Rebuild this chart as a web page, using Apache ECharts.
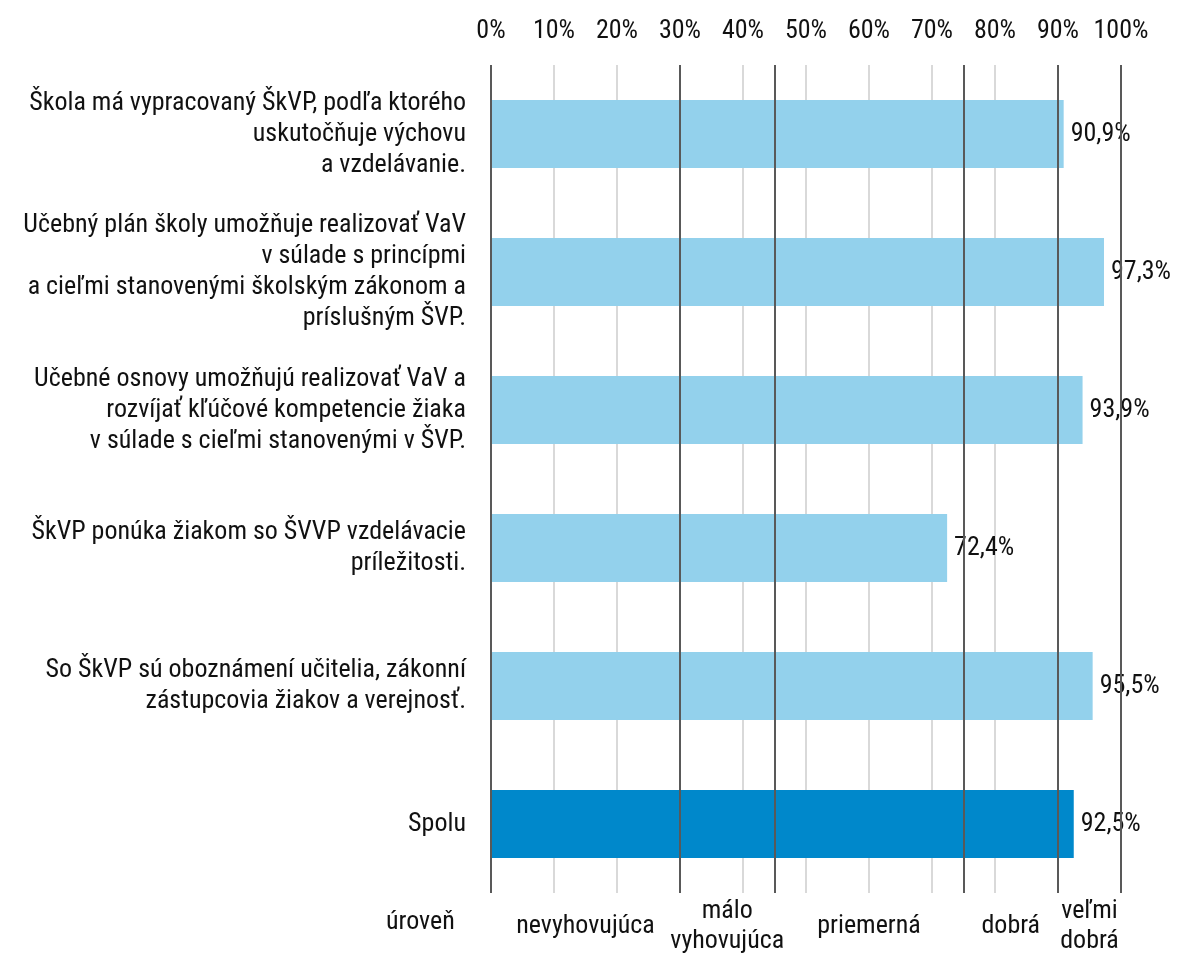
<!DOCTYPE html>
<html>
<head>
<meta charset="utf-8">
<script src="https://cdn.jsdelivr.net/npm/echarts@6/dist/echarts.min.js"></script>
<style>
  html, body { margin: 0; background: #fff; }
  #chart { width: 1178px; height: 959px; }
</style>
</head>
<body>
<div id="chart"></div>
<script>
const categories = [
  'Škola má vypracovaný ŠkVP, podľa ktorého\nuskutočňuje výchovu\na vzdelávanie.',
  'Učebný plán školy umožňuje realizovať VaV\nv súlade s princípmi\na cieľmi stanovenými školským zákonom a\npríslušným ŠVP.',
  'Učebné osnovy umožňujú realizovať VaV a\nrozvíjať kľúčové kompetencie žiaka\nv súlade s cieľmi stanovenými v ŠVP.',
  'ŠkVP ponúka žiakom so ŠVVP vzdelávacie\npríležitosti.',
  'So ŠkVP sú oboznámení učitelia, zákonní\nzástupcovia žiakov a verejnosť.',
  'Spolu',
]
const values = [90.9, 97.3, 93.9, 72.4, 95.5, 92.5]
const levelBounds = [0, 30, 45, 75, 90, 100]
const levelNames = ['nevyhovujúca', 'málo\nvyhovujúca', 'priemerná', 'dobrá', 'veľmi\ndobrá']
const levelTitle = 'úroveň'

const FONT = '"Roboto Condensed", "Liberation Sans Narrow", "DejaVu Sans Condensed", Roboto, sans-serif'
const TEXT = '#111'
const SIZE = 26

const chart = echarts.init(document.getElementById('chart'))
chart.setOption({
  backgroundColor: '#fff',
  animation: false,
  textStyle: { fontFamily: FONT, color: TEXT },
  grid: { left: 491, right: 57, top: 65, bottom: 66 },
  xAxis: {
    type: 'value',
    position: 'top',
    min: 0,
    max: 100,
    interval: 10,
    axisLine: { show: false },
    axisTick: { show: false },
    axisLabel: {
      formatter: '{value}%',
      fontSize: SIZE,
      fontFamily: FONT,
      color: TEXT,
      margin: 21,
    },
    splitLine: { lineStyle: { color: '#d9d9d9', width: 2 } },
  },
  yAxis: {
    type: 'category',
    inverse: true,
    data: categories,
    axisLine: { show: false },
    axisTick: { show: false },
    axisLabel: {
      fontSize: SIZE,
      lineHeight: 31,
      fontFamily: FONT,
      color: TEXT,
      margin: 25,
      align: 'right',
    },
  },
  graphic: [
    {
      type: 'text',
      left: 386,
      top: 909,
      style: { text: levelTitle, fontSize: SIZE, fontFamily: FONT, fill: TEXT },
    },
  ],
  series: [
    {
      type: 'bar',
      barWidth: 68,
      data: values.map((v, i) => ({
        value: v,
        itemStyle: { color: i === values.length - 1 ? '#0088cb' : '#93d1ec' },
      })),
      label: {
        show: true,
        position: 'right',
        distance: 7,
        fontSize: SIZE,
        fontFamily: FONT,
        color: TEXT,
        formatter: (p) => p.value.toFixed(1).replace('.', ',') + '%',
      },
      markLine: {
        silent: true,
        symbol: 'none',
        label: { show: false },
        lineStyle: { color: '#595959', width: 2, type: 'solid' },
        data: levelBounds.map((x) => ({ xAxis: x })),
      },
      markArea: {
        silent: true,
        itemStyle: { color: 'rgba(0,0,0,0)' },
        label: {
          show: true,
          position: 'bottom',
          distance: 33,
          verticalAlign: 'middle',
          align: 'center',
          fontSize: SIZE,
          lineHeight: 30,
          fontFamily: FONT,
          color: TEXT,
        },
        data: levelNames.map((name, i) => [
          { name, xAxis: levelBounds[i] },
          { xAxis: levelBounds[i + 1] },
        ]),
      },
    },
  ],
})
</script>
</body>
</html>
